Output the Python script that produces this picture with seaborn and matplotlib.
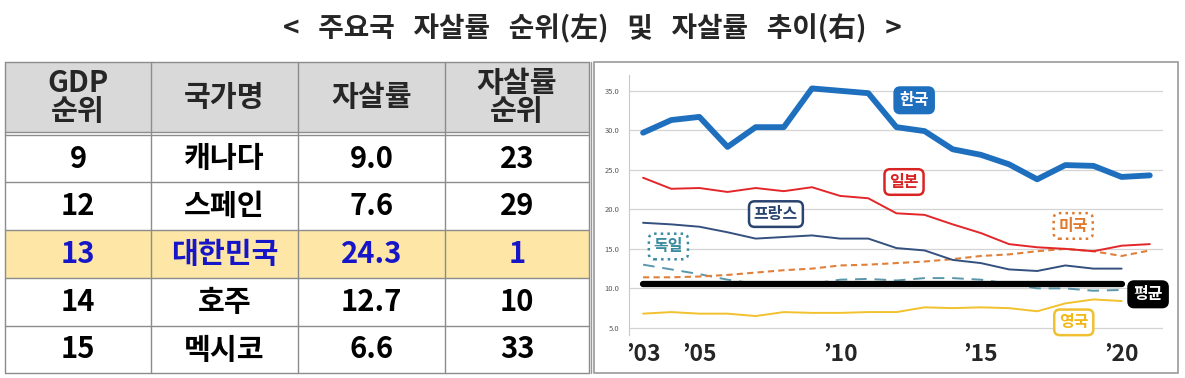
import matplotlib
matplotlib.use("Agg")
import pandas as pd
import seaborn as sns
import matplotlib.pyplot as plt
from matplotlib.patches import Rectangle

sns.set_style("white")
plt.rcParams["font.family"] = ["Noto Sans CJK KR", "DejaVu Sans"]

title = "<   주요국   자살률   순위(左)   및   자살률   추이(右)   >"

# table (left)
table_header = ["GDP\n순위", "국가명", "자살률", "자살률\n순위"]
gdp_rank = ["9", "12", "13", "14", "15"]
countries = ["캐나다", "스페인", "대한민국", "호주", "멕시코"]
suicide_rate = ["9.0", "7.6", "24.3", "12.7", "6.6"]
suicide_rank = ["23", "29", "1", "10", "33"]
highlight = "대한민국"

# trend (right)
years = [2003, 2004, 2005, 2006, 2007, 2008, 2009, 2010, 2011, 2012,
         2013, 2014, 2015, 2016, 2017, 2018, 2019, 2020, 2021]
korea = [29.7, 31.3, 31.7, 27.9, 30.4, 30.4, 35.3, 35.0, 34.7, 30.4,
         29.9, 27.6, 26.9, 25.7, 23.8, 25.6, 25.5, 24.1, 24.3]
japan = [24.0, 22.6, 22.7, 22.2, 22.7, 22.3, 22.8, 21.7, 21.4, 19.5,
         19.3, 18.1, 17.0, 15.6, 15.2, 15.0, 14.7, 15.4, 15.6]
france = [18.3, 18.1, 17.8, 17.1, 16.3, 16.5, 16.7, 16.3, 16.3, 15.1,
          14.8, 13.6, 13.2, 12.4, 12.2, 12.9, 12.5, 12.5]
usa = [11.4, 11.4, 11.5, 11.7, 12.0, 12.3, 12.5, 12.9, 13.0, 13.2,
       13.4, 13.7, 14.1, 14.3, 14.7, 15.0, 14.7, 14.1, 14.8]
germany = [13.0, 12.4, 11.8, 11.1, 10.6, 10.5, 10.6, 11.1, 11.2, 11.0,
           11.3, 11.3, 11.1, 10.6, 10.0, 10.0, 9.7, 9.8]
uk = [6.8, 7.0, 6.8, 6.8, 6.5, 7.0, 6.9, 6.9, 7.0, 7.0,
      7.6, 7.5, 7.6, 7.5, 7.1, 8.1, 8.6, 8.4]
oecd_avg = [10.6, 10.6, 10.6, 10.6, 10.6, 10.6, 10.6, 10.6, 10.6, 10.6,
            10.6, 10.6, 10.6, 10.6, 10.6, 10.6, 10.6, 10.6]
xtick_years = [2003, 2005, 2010, 2015, 2020]
xtick_labels = ["\u201903", "\u201905", "\u201910", "\u201915", "\u201920"]
yticks = [5, 10, 15, 20, 25, 30, 35]

fig = plt.figure(figsize=(11.85, 3.78), dpi=100)

# background axes in pixel units for title, table and frame
bg = fig.add_axes([0, 0, 1, 1])
bg.set_xlim(0, 1185)
bg.set_ylim(378, 0)
bg.axis("off")

bg.text(592, 29, title, ha="center", va="center", fontsize=20, fontweight="bold")

col_edges = [5, 151, 298, 445, 589]
row_edges = [135, 182, 230, 278, 326, 373]
grid_c = "#8c8c8c"

bg.add_patch(Rectangle((5, 62), 584, 71, fc="#d9d9d9", ec="none"))
hi = countries.index(highlight)
bg.add_patch(Rectangle((5, row_edges[hi]), 584, row_edges[hi + 1] - row_edges[hi],
                       fc="#fde6a6", ec="none"))
for y in [62, 132] + row_edges:
    bg.plot([5, 589], [y, y], color=grid_c, lw=1)
for x in col_edges:
    bg.plot([x, x], [62, 373], color=grid_c, lw=1)

centers = [(a + b) / 2 for a, b in zip(col_edges[:-1], col_edges[1:])]
for cx, h in zip(centers, table_header):
    bg.text(cx, 97, h, ha="center", va="center", fontsize=21, fontweight="bold",
            linespacing=0.92)
for i, row in enumerate(zip(gdp_rank, countries, suicide_rate, suicide_rank)):
    cy = (row_edges[i] + row_edges[i + 1]) / 2
    color = "#1616c8" if i == hi else "black"
    for cx, val in zip(centers, row):
        bg.text(cx, cy, val, ha="center", va="center", fontsize=21,
                fontweight="bold", color=color)

# chart frame
bg.add_patch(Rectangle((594, 62), 584, 311, fill=False, ec="#9a9a9a", lw=1.2))
bg.plot([591, 591], [62, 373], color="#9a9a9a", lw=1)

# line chart
ax = fig.add_axes([629 / 1185, 1 - 335 / 378, (1163 - 629) / 1185, (335 - 75) / 378])
ax.set_facecolor("none")

sns.lineplot(x=years[:len(uk)], y=uk, ax=ax, color="#f2c12e", lw=1.4)
sns.lineplot(x=years[:len(germany)], y=germany, ax=ax, color="#5b97aa", lw=1.4,
             linestyle=(0, (6, 4)))
sns.lineplot(x=years, y=usa, ax=ax, color="#e0803a", lw=1.5, linestyle=(0, (3, 2)))
sns.lineplot(x=years[:len(france)], y=france, ax=ax, color="#34507f", lw=1.4)
sns.lineplot(x=years, y=japan, ax=ax, color="#e3262a", lw=1.4)
sns.lineplot(x=years[:len(oecd_avg)], y=oecd_avg, ax=ax, color="black", lw=4.5)
sns.lineplot(x=years, y=korea, ax=ax, color="#1f6fbf", lw=4.2)

ax.set_xlim(2002.5, 2021.47)
ax.set_ylim(4.1, 37)
ax.set_yticks(yticks)
ax.set_yticklabels([f"{v:.1f}" for v in yticks], fontsize=5.5, color="#595959")
ax.set_xticks(xtick_years)
ax.set_xticklabels(xtick_labels, fontsize=16.5, fontweight="bold")
ax.tick_params(axis="x", length=0, pad=6)
ax.tick_params(axis="y", length=4, color="#c8c8c8", pad=3)
ax.grid(axis="y", color="#d4d4d4", lw=0.9)
ax.set_xlabel("")
ax.set_ylabel("")
for s in ["top", "right", "bottom"]:
    ax.spines[s].set_visible(False)
ax.spines["left"].set_color("#c8c8c8")

def tag(x, y, s, fc, ec, tc, ls="-"):
    ax.text(x, y, s, ha="center", va="center", fontsize=11.5, fontweight="bold",
            color=tc, zorder=10,
            bbox=dict(boxstyle="round,pad=0.3,rounding_size=0.35", fc=fc, ec=ec,
                      lw=1.8, ls=ls))

tag(2012.63, 33.8, "한국", "#1f6fbf", "#1f6fbf", "white")
tag(2012.27, 23.46, "일본", "white", "#d92424", "#d92424")
tag(2007.72, 19.4, "프랑스", "white", "#2a4470", "#2a4470")
tag(2003.9, 15.3, "독일", "white", "#3a8ba0", "#3a8ba0", ":")
tag(2018.28, 17.9, "미국", "white", "#e07a2e", "#e07a2e", ":")
tag(2020.94, 9.25, "평균", "black", "black", "white")
tag(2018.3, 5.7, "영국", "white", "#f0c030", "#f0b818")

fig.savefig("out.png", dpi=100)
